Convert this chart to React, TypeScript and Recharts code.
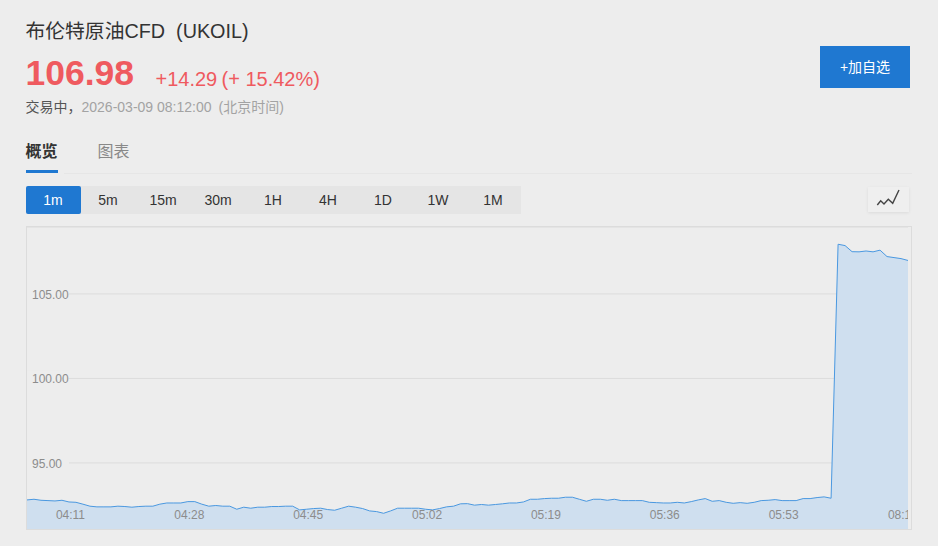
import React from "react";
import { AreaChart, Area, XAxis, YAxis, CartesianGrid } from "recharts";

const FONT = '"Liberation Sans", Arial, "Noto Sans CJK SC", sans-serif';
const BLUE = "#1f78d1";

const times = [
  "04:05","04:06","04:07","04:08","04:09","04:10","04:11","04:12","04:13","04:14","04:15","04:16","04:17","04:18","04:19",
  "04:20","04:21","04:22","04:23","04:24","04:25","04:26","04:27","04:28","04:29","04:30","04:31","04:32","04:33","04:34",
  "04:35","04:36","04:37","04:38","04:39","04:40","04:41","04:42","04:43","04:44","04:45","04:46","04:47","04:48","04:49",
  "04:50","04:51","04:52","04:53","04:54","04:55","04:56","04:57","04:58","04:59","05:00","05:01","05:02","05:03","05:04",
  "05:05","05:06","05:07","05:08","05:09","05:10","05:11","05:12","05:13","05:14","05:15","05:16","05:17","05:18","05:19",
  "05:20","05:21","05:22","05:23","05:24","05:25","05:26","05:27","05:28","05:29","05:30","05:31","05:32","05:33","05:34",
  "05:35","05:36","05:37","05:38","05:39","05:40","05:41","05:42","05:43","05:44","05:45","05:46","05:47","05:48","05:49",
  "05:50","05:51","05:52","05:53","05:54","05:55","05:56","05:57","05:58","05:59","06:00",
  "08:02","08:03","08:04","08:05","08:06","08:07","08:08","08:09","08:10","08:11","08:12",
];
const prices = [
  92.81,92.85,92.79,92.77,92.75,92.79,92.69,92.67,92.56,92.44,92.40,92.40,92.40,92.44,92.42,
  92.38,92.42,92.44,92.44,92.56,92.63,92.63,92.63,92.71,92.71,92.56,92.44,92.48,92.44,92.44,
  92.26,92.38,92.32,92.38,92.38,92.42,92.42,92.44,92.44,92.22,92.26,92.30,92.32,92.24,92.20,
  92.32,92.44,92.38,92.30,92.16,92.12,92.02,92.16,92.32,92.32,92.32,92.32,92.26,92.22,92.30,
  92.40,92.44,92.58,92.59,92.50,92.54,92.50,92.54,92.58,92.63,92.63,92.69,92.85,92.85,92.89,
  92.91,92.91,92.97,92.97,92.85,92.73,92.85,92.85,92.79,92.85,92.77,92.77,92.77,92.77,92.67,
  92.65,92.63,92.63,92.67,92.63,92.71,92.81,92.89,92.73,92.77,92.67,92.61,92.65,92.61,92.67,
  92.77,92.79,92.83,92.77,92.77,92.77,92.89,92.89,92.95,92.99,92.91,
  107.94,107.86,107.50,107.49,107.54,107.49,107.59,107.21,107.15,107.09,106.98,
];
const xTicks = ["04:11","04:28","04:45","05:02","05:19","05:36","05:53","08:11"];
const yTicks = [95, 100, 105];
const intervals = ["1m","5m","15m","30m","1H","4H","1D","1W","1M"];
const chartData = times.map((time, i) => ({ time, price: prices[i] }));

const XTick = ({ x, payload }: any) => (
  <text x={x + 1.5} y={292} textAnchor="middle" fontSize={12} fontFamily={FONT} fill="#8c8c8c">{payload.value}</text>
);
const YTick = ({ y, payload }: any) => (
  <g>
    <rect x={0} y={y - 8} width={42} height={16} fill="#ededed" />
    <text x={5} y={y + 5} fontSize={12} fontFamily={FONT} fill="#8c8c8c">{payload.value.toFixed(2)}</text>
  </g>
);

const abs = (left: number, top: number, extra: React.CSSProperties = {}): React.CSSProperties => ({
  position: "absolute", left, top, whiteSpace: "pre", ...extra,
});

export default function App() {
  return (
    <div style={{ position: "absolute", left: 0, top: 0, width: 938, height: 546, background: "#ededed", fontFamily: FONT, overflow: "hidden" }}>
      <div style={abs(25.5, 19, { fontSize: 19.8, lineHeight: "24px", color: "#333" })}>布伦特原油CFD  (UKOIL)</div>
      <div style={abs(25.5, 52, { fontSize: 35.5, lineHeight: "42px", fontWeight: 700, color: "#ef5a5f" })}>106.98</div>
      <div style={abs(155.5, 67, { fontSize: 20, lineHeight: "24px", color: "#ef5a5f" })}>+14.29</div>
      <div style={abs(221.5, 67, { fontSize: 20, lineHeight: "24px", color: "#ef5a5f" })}>(+ 15.42%)</div>
      <div style={abs(25.5, 98, { fontSize: 14, lineHeight: "18px", color: "#555" })}>交易中，</div>
      <div style={abs(81.5, 98, { fontSize: 14, lineHeight: "18px", color: "#a3a3a3" })}>2026-03-09 08:12:00</div>
      <div style={abs(218.5, 98, { fontSize: 14, lineHeight: "18px", color: "#a3a3a3" })}>(北京时间)</div>

      <div style={abs(820, 46, { width: 90, height: 42, background: BLUE, color: "#fff", fontSize: 14, lineHeight: "42px", textAlign: "center" })}>+加自选</div>

      <div style={abs(25.5, 142, { fontSize: 16, lineHeight: "20px", fontWeight: 700, color: "#333" })}>概览</div>
      <div style={abs(97.5, 142, { fontSize: 16, lineHeight: "20px", color: "#888" })}>图表</div>
      <div style={abs(26, 170, { width: 32, height: 3, background: BLUE })} />
      <div style={abs(64, 173, { width: 848, height: 1, background: "#e6e6e6" })} />

      <div style={abs(26, 186, { width: 495, height: 28, background: "#e5e5e5" })} />
      {intervals.map((label, i) => (
        <div key={label} style={abs(26 + i * 55 - 0.5, 186, {
          width: 55, height: 28, lineHeight: "28px", textAlign: "center", fontSize: 14,
          background: i === 0 ? BLUE : "transparent", color: i === 0 ? "#fff" : "#333", borderRadius: i === 0 ? 2 : 0,
        })}>{label}</div>
      ))}

      <div style={abs(868, 187, { width: 41, height: 25, background: "#efefef", boxShadow: "0 1px 3px rgba(0,0,0,0.08)" })}>
        <svg width={41} height={25} style={{ display: "block" }}>
          <polyline points="9.3,18 12.7,13.7 16,17 20.3,12.3 24.7,16.3 31,3" fill="none" stroke="#444" strokeWidth={1.4} />
        </svg>
      </div>

      <div style={abs(26, 226, { width: 884, height: 302, border: "1px solid #dcdcdc" })} />
      <div style={abs(27, 227, { width: 881, height: 302 })}>
        <AreaChart width={881} height={302} data={chartData} margin={{ top: 0, right: 0, bottom: 0, left: 0 }}>
          <CartesianGrid vertical={false} stroke="#dcdcdc" />
          <Area dataKey="price" type="linear" stroke="#4a98e0" strokeWidth={1} fill="#cfdfef" fillOpacity={1} isAnimationActive={false} dot={false} activeDot={false} />
          <XAxis dataKey="time" height={1} mirror ticks={xTicks} interval={0} axisLine={false} tickLine={false} tick={XTick} />
          <YAxis width={1} mirror domain={[91.09, 108.96]} allowDataOverflow ticks={yTicks} axisLine={false} tickLine={false} tick={YTick} />
        </AreaChart>
      </div>
    </div>
  );
}
